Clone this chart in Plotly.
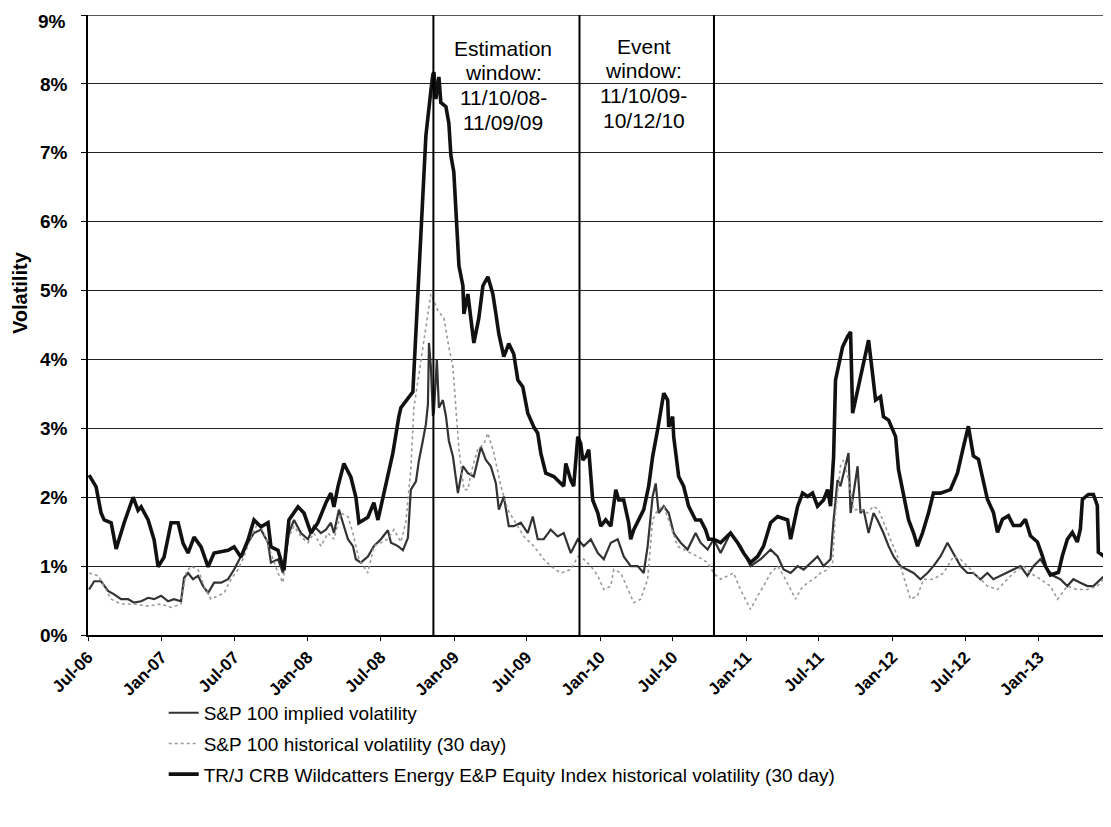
import numpy as np
import pandas as pd
import plotly.graph_objects as go

# ---- data (fractional years, volatility in %) ----
energy_t = [2006.503, 2006.551, 2006.585, 2006.606, 2006.654, 2006.688, 2006.743, 2006.804, 2006.838, 2006.859,
            2006.907, 2006.948, 2006.975, 2007.016, 2007.064, 2007.112, 2007.146, 2007.180, 2007.221, 2007.269,
            2007.317, 2007.358, 2007.454, 2007.495, 2007.542, 2007.590, 2007.631, 2007.679, 2007.727, 2007.747,
            2007.795, 2007.836, 2007.870, 2007.932, 2007.973, 2008.021, 2008.068, 2008.123, 2008.157, 2008.178,
            2008.205, 2008.246, 2008.294, 2008.328, 2008.349, 2008.410, 2008.451, 2008.479, 2008.520, 2008.581,
            2008.622, 2008.636, 2008.718, 2008.739, 2008.752, 2008.786, 2008.807, 2008.828, 2008.841, 2008.855,
            2008.862, 2008.875, 2008.896, 2008.909, 2008.944, 2008.964, 2008.978, 2008.998, 2009.019, 2009.033,
            2009.060, 2009.067, 2009.094, 2009.115, 2009.135, 2009.169, 2009.197, 2009.231, 2009.265, 2009.286,
            2009.306, 2009.340, 2009.374, 2009.408, 2009.436, 2009.470, 2009.504, 2009.545, 2009.572, 2009.593,
            2009.627, 2009.682, 2009.730, 2009.750, 2009.764, 2009.798, 2009.818, 2009.846, 2009.866, 2009.880,
            2009.901, 2009.921, 2009.948, 2009.983, 2010.003, 2010.037, 2010.072, 2010.106, 2010.126, 2010.160,
            2010.194, 2010.208, 2010.229, 2010.263, 2010.297, 2010.331, 2010.358, 2010.392, 2010.413, 2010.434,
            2010.461, 2010.468, 2010.495, 2010.502, 2010.536, 2010.570, 2010.604, 2010.652, 2010.686, 2010.720,
            2010.741, 2010.775, 2010.823, 2010.891, 2010.939, 2010.980, 2011.028, 2011.076, 2011.117, 2011.165,
            2011.213, 2011.281, 2011.302, 2011.350, 2011.384, 2011.418, 2011.452, 2011.486, 2011.527, 2011.555,
            2011.575, 2011.596, 2011.609, 2011.630, 2011.657, 2011.691, 2011.712, 2011.726, 2011.746, 2011.767,
            2011.794, 2011.828, 2011.835, 2011.862, 2011.883, 2011.917, 2011.937, 2011.972, 2011.999, 2012.020,
            2012.040, 2012.074, 2012.109, 2012.143, 2012.170, 2012.204, 2012.245, 2012.279, 2012.327, 2012.395,
            2012.443, 2012.484, 2012.518, 2012.552, 2012.587, 2012.648, 2012.689, 2012.717, 2012.751, 2012.792,
            2012.826, 2012.874, 2012.908, 2012.942, 2012.990, 2013.024, 2013.045, 2013.079, 2013.134, 2013.161,
            2013.195, 2013.229, 2013.263, 2013.284, 2013.298, 2013.339, 2013.373, 2013.400, 2013.407, 2013.441,
            2013.468, 2013.475, 2013.496]
energy_v = [2.32, 2.15, 1.77, 1.67, 1.63, 1.25, 1.63, 2.00, 1.81, 1.86,
            1.67, 1.38, 0.99, 1.13, 1.63, 1.63, 1.33, 1.19, 1.42, 1.28,
            0.99, 1.19, 1.23, 1.28, 1.13, 1.38, 1.67, 1.57, 1.63, 1.28,
            1.23, 0.94, 1.67, 1.86, 1.77, 1.48, 1.63, 1.92, 2.06, 1.86,
            2.15, 2.49, 2.29, 2.00, 1.63, 1.71, 1.92, 1.67, 2.06, 2.64,
            3.17, 3.30, 3.53, 4.48, 5.00, 6.37, 7.25, 7.73, 7.90, 8.14,
            8.17, 7.78, 8.10, 7.73, 7.67, 7.43, 6.96, 6.72, 5.95, 5.36,
            5.07, 4.66, 4.95, 4.60, 4.24, 4.60, 5.07, 5.20, 4.95, 4.66,
            4.37, 4.04, 4.23, 4.08, 3.70, 3.60, 3.22, 3.02, 2.93, 2.64,
            2.35, 2.30, 2.20, 2.16, 2.49, 2.25, 2.16, 2.88, 2.78, 2.54,
            2.59, 2.69, 1.96, 1.77, 1.58, 1.67, 1.58, 2.11, 1.96, 1.96,
            1.63, 1.39, 1.53, 1.67, 1.82, 2.16, 2.59, 2.98, 3.22, 3.51,
            3.41, 3.02, 3.17, 2.88, 2.30, 2.16, 1.87, 1.67, 1.67, 1.53,
            1.39, 1.39, 1.34, 1.48, 1.34, 1.19, 1.05, 1.14, 1.29, 1.63,
            1.72, 1.67, 1.39, 1.87, 2.06, 2.01, 2.06, 1.87, 1.96, 2.11,
            1.87, 2.59, 3.70, 3.94, 4.18, 4.33, 4.40, 3.22, 3.41, 3.60,
            3.89, 4.23, 4.28, 3.80, 3.41, 3.46, 3.17, 3.12, 2.98, 2.88,
            2.40, 2.01, 1.67, 1.48, 1.29, 1.48, 1.77, 2.06, 2.06, 2.11,
            2.35, 2.73, 3.03, 2.60, 2.55, 1.97, 1.78, 1.49, 1.68, 1.73,
            1.59, 1.59, 1.68, 1.44, 1.35, 1.15, 1.00, 0.87, 0.91, 1.15,
            1.39, 1.49, 1.35, 1.54, 1.97, 2.04, 2.04, 1.88, 1.20, 1.15,
            1.10, 1.49, 1.48]

implied_t = [2006.503, 2006.538, 2006.585, 2006.633, 2006.674, 2006.722, 2006.770, 2006.811, 2006.859, 2006.907,
             2006.948, 2006.996, 2007.043, 2007.084, 2007.132, 2007.153, 2007.180, 2007.214, 2007.248, 2007.283,
             2007.317, 2007.358, 2007.406, 2007.454, 2007.495, 2007.542, 2007.590, 2007.631, 2007.679, 2007.727,
             2007.747, 2007.795, 2007.829, 2007.870, 2007.905, 2007.952, 2008.000, 2008.041, 2008.089, 2008.123,
             2008.157, 2008.178, 2008.212, 2008.239, 2008.274, 2008.308, 2008.328, 2008.362, 2008.410, 2008.451,
             2008.499, 2008.547, 2008.568, 2008.616, 2008.650, 2008.684, 2008.704, 2008.739, 2008.759, 2008.786,
             2008.807, 2008.821, 2008.828, 2008.841, 2008.855, 2008.862, 2008.882, 2008.896, 2008.923, 2008.944,
             2008.964, 2008.992, 2009.012, 2009.026, 2009.060, 2009.094, 2009.135, 2009.183, 2009.217, 2009.251,
             2009.286, 2009.306, 2009.340, 2009.374, 2009.408, 2009.456, 2009.504, 2009.538, 2009.572, 2009.613,
             2009.661, 2009.709, 2009.750, 2009.798, 2009.846, 2009.887, 2009.935, 2009.983, 2010.024, 2010.072,
             2010.119, 2010.160, 2010.208, 2010.256, 2010.297, 2010.324, 2010.358, 2010.379, 2010.399, 2010.434,
             2010.468, 2010.502, 2010.550, 2010.597, 2010.652, 2010.686, 2010.734, 2010.775, 2010.823, 2010.891,
             2010.959, 2011.028, 2011.097, 2011.165, 2011.213, 2011.254, 2011.302, 2011.350, 2011.391, 2011.439,
             2011.486, 2011.527, 2011.575, 2011.596, 2011.623, 2011.643, 2011.664, 2011.698, 2011.712, 2011.732,
             2011.760, 2011.780, 2011.801, 2011.835, 2011.869, 2011.896, 2011.937, 2011.972, 2012.006, 2012.054,
             2012.102, 2012.143, 2012.190, 2012.238, 2012.279, 2012.327, 2012.375, 2012.416, 2012.464, 2012.511,
             2012.552, 2012.600, 2012.648, 2012.689, 2012.737, 2012.785, 2012.826, 2012.874, 2012.922, 2012.963,
             2013.010, 2013.058, 2013.099, 2013.147, 2013.195, 2013.236, 2013.284, 2013.332, 2013.373, 2013.421,
             2013.468, 2013.496]
implied_v = [0.66, 0.78, 0.78, 0.64, 0.59, 0.52, 0.52, 0.47, 0.49, 0.54,
             0.52, 0.57, 0.49, 0.52, 0.49, 0.83, 0.90, 0.81, 0.86, 0.71,
             0.61, 0.76, 0.76, 0.81, 0.95, 1.14, 1.34, 1.48, 1.53, 1.34,
             1.05, 1.10, 0.90, 1.48, 1.67, 1.48, 1.39, 1.58, 1.48, 1.53,
             1.63, 1.48, 1.82, 1.63, 1.39, 1.29, 1.10, 1.05, 1.14, 1.29,
             1.39, 1.52, 1.34, 1.29, 1.23, 1.41, 2.11, 2.23, 2.53, 2.82,
             3.06, 3.35, 4.24, 3.89, 3.18, 3.24, 4.00, 3.30, 3.41, 3.18,
             2.82, 2.59, 2.23, 2.06, 2.45, 2.35, 2.30, 2.73, 2.54, 2.45,
             2.20, 1.82, 2.01, 1.58, 1.58, 1.63, 1.48, 1.72, 1.39, 1.39,
             1.53, 1.43, 1.48, 1.19, 1.39, 1.29, 1.39, 1.19, 1.10, 1.34,
             1.39, 1.14, 1.00, 1.00, 0.90, 1.29, 2.01, 2.20, 1.77, 1.87,
             1.77, 1.48, 1.34, 1.24, 1.48, 1.34, 1.24, 1.39, 1.19, 1.48,
             1.29, 1.00, 1.10, 1.24, 1.14, 0.95, 0.90, 1.00, 0.95, 1.05,
             1.14, 1.00, 1.10, 1.67, 2.25, 2.16, 2.35, 2.64, 1.77, 2.06,
             2.45, 1.77, 1.82, 1.48, 1.77, 1.67, 1.48, 1.29, 1.14, 1.00,
             0.95, 0.90, 0.81, 0.90, 1.00, 1.14, 1.34, 1.19, 1.00, 0.90,
             0.90, 0.81, 0.90, 0.81, 0.86, 0.90, 0.95, 1.00, 0.86, 1.00,
             1.10, 0.95, 0.86, 0.81, 0.71, 0.81, 0.76, 0.71, 0.71, 0.81,
             0.90, 1.00]

hist_t = [2006.503, 2006.565, 2006.606, 2006.654, 2006.722, 2006.811, 2006.907, 2006.996, 2007.064, 2007.132,
          2007.166, 2007.200, 2007.248, 2007.290, 2007.337, 2007.385, 2007.426, 2007.474, 2007.522, 2007.563,
          2007.611, 2007.659, 2007.700, 2007.747, 2007.795, 2007.829, 2007.864, 2007.905, 2007.952, 2008.000,
          2008.041, 2008.089, 2008.137, 2008.178, 2008.226, 2008.274, 2008.308, 2008.349, 2008.410, 2008.451,
          2008.499, 2008.547, 2008.588, 2008.636, 2008.670, 2008.704, 2008.725, 2008.773, 2008.841, 2008.889,
          2008.930, 2008.964, 2008.992, 2009.012, 2009.033, 2009.067, 2009.094, 2009.115, 2009.162, 2009.203,
          2009.231, 2009.272, 2009.320, 2009.367, 2009.408, 2009.477, 2009.545, 2009.613, 2009.661, 2009.730,
          2009.798, 2009.846, 2009.887, 2009.935, 2009.983, 2010.024, 2010.072, 2010.092, 2010.140, 2010.187,
          2010.229, 2010.276, 2010.324, 2010.358, 2010.392, 2010.434, 2010.481, 2010.529, 2010.570, 2010.618,
          2010.666, 2010.734, 2010.775, 2010.823, 2010.871, 2010.912, 2010.959, 2011.028, 2011.076, 2011.117,
          2011.165, 2011.213, 2011.254, 2011.302, 2011.336, 2011.370, 2011.418, 2011.459, 2011.507, 2011.555,
          2011.589, 2011.609, 2011.643, 2011.664, 2011.698, 2011.732, 2011.780, 2011.828, 2011.869, 2011.903,
          2011.937, 2011.985, 2012.033, 2012.074, 2012.122, 2012.170, 2012.211, 2012.279, 2012.348, 2012.416,
          2012.464, 2012.511, 2012.580, 2012.648, 2012.717, 2012.785, 2012.826, 2012.894, 2012.942, 2013.010,
          2013.079, 2013.127, 2013.195, 2013.263, 2013.332, 2013.400, 2013.441, 2013.496]
hist_v = [0.90, 0.86, 0.71, 0.52, 0.45, 0.45, 0.42, 0.45, 0.40, 0.45,
          0.90, 1.00, 0.95, 0.71, 0.52, 0.57, 0.61, 0.81, 0.95, 1.14,
          1.43, 1.63, 1.48, 1.19, 0.90, 0.76, 1.39, 1.58, 1.43, 1.34,
          1.48, 1.29, 1.48, 1.39, 1.77, 1.72, 1.48, 1.10, 0.90, 1.29,
          1.34, 1.39, 1.53, 1.35, 1.64, 2.41, 3.30, 4.00, 4.95, 4.71,
          4.60, 4.18, 3.89, 3.30, 2.70, 2.11, 2.11, 2.35, 2.70, 2.77,
          2.93, 2.64, 2.16, 1.82, 1.67, 1.43, 1.29, 1.10, 1.00, 0.90,
          0.95, 1.14, 1.10, 1.00, 0.86, 0.66, 0.71, 0.95, 0.90, 0.66,
          0.47, 0.52, 0.81, 1.67, 1.82, 1.87, 1.58, 1.29, 1.24, 1.19,
          1.14, 1.05, 0.90, 0.81, 0.86, 0.90, 0.66, 0.37, 0.57, 0.71,
          0.90, 1.00, 0.86, 0.66, 0.52, 0.66, 0.76, 0.81, 0.90, 0.95,
          1.05, 1.77, 2.45, 2.54, 2.25, 1.82, 1.82, 1.77, 1.87, 1.82,
          1.63, 1.39, 1.14, 0.86, 0.52, 0.57, 0.81, 0.81, 0.90, 1.14,
          1.10, 1.00, 0.86, 0.71, 0.66, 0.81, 0.90, 1.00, 0.90, 0.81,
          0.71, 0.52, 0.71, 0.66, 0.66, 0.71, 0.81, 0.90]

tick_dates = ["2006-07-01", "2007-01-01", "2007-07-01", "2008-01-01", "2008-07-01", "2009-01-01",
              "2009-07-01", "2010-01-01", "2010-07-01", "2011-01-01", "2011-07-01", "2012-01-01",
              "2012-07-01", "2013-01-01"]
tick_labels = ["Jul-06", "Jan-07", "Jul-07", "Jan-08", "Jul-08", "Jan-09", "Jul-09", "Jan-10",
               "Jul-10", "Jan-11", "Jul-11", "Jan-12", "Jul-12", "Jan-13"]
y_ticks = [0, 1, 2, 3, 4, 5, 6, 7, 8, 9]
y_tick_labels = ["0%", "1%", "2%", "3%", "4%", "5%", "6%", "7%", "8%", "9%"]
window_dates = ["2008-11-10", "2009-11-10", "2010-10-12"]
window_lines = [["Estimation", "window:", "11/10/08-", "11/09/09"],
                ["Event", "window:", "11/10/09-", "10/12/10"]]
series_names = ["S&P 100 implied volatility", "S&P 100 historical volatility (30 day)",
                "TR/J CRB Wildcatters Energy E&P Equity Index historical volatility (30 day)"]
y_title = "Volatility"
y_max = 9


def to_dates(fy):
    fy = np.asarray(fy, dtype=float)
    return pd.Timestamp("2006-01-01") + pd.to_timedelta((fy - 2006.0) * 365.25, unit="D")


FONT = "Arial, Liberation Sans, sans-serif"
fig = go.Figure()

fig.add_trace(go.Scatter(x=to_dates(implied_t), y=implied_v, mode="lines", name=series_names[0],
                         legendgroup="a", line=dict(color="#333333", width=2.2)))
fig.add_trace(go.Scatter(x=to_dates(hist_t), y=hist_v, mode="lines", name=series_names[1],
                         legendgroup="b", line=dict(color="#9a9a9a", width=1.6, dash="dot")))
fig.add_trace(go.Scatter(x=to_dates(energy_t), y=energy_v, mode="lines", name=series_names[2],
                         legendgroup="c", line=dict(color="#111111", width=3.6)))

shapes = [dict(type="line", xref="paper", yref="y", x0=0, x1=1, y0=y_max, y1=y_max,
               line=dict(color="#222222", width=1.5))]
for d in window_dates:
    shapes.append(dict(type="line", xref="x", yref="y", x0=d, x1=d, y0=0, y1=y_max,
                       line=dict(color="black", width=2)))

annotations = []
mid1 = pd.Timestamp(window_dates[0]) + (pd.Timestamp(window_dates[1]) - pd.Timestamp(window_dates[0])) / 2
mid2 = pd.Timestamp(window_dates[1]) + (pd.Timestamp(window_dates[2]) - pd.Timestamp(window_dates[1])) / 2
line_step = 0.36  # vertical spacing between text lines, in axis units
for mid, lines, top in zip([mid1, mid2], window_lines, [8.52, 8.55]):
    for i, txt in enumerate(lines):
        annotations.append(dict(x=mid, y=top - i * line_step, xref="x", yref="y", text=txt, showarrow=False,
                                xanchor="center", yanchor="middle", align="center", xshift=-3,
                                font=dict(family=FONT, size=21, color="black")))
annotations.append(dict(x=-0.0665, y=0.553, xref="paper", yref="paper", text=y_title, showarrow=False,
                        textangle=-90, xanchor="center", yanchor="middle",
                        font=dict(family=FONT, size=20, color="black", weight="bold")))
# top tick label drawn as an annotation, nudged down so it stays inside the page
annotations.append(dict(x=-0.0195, y=y_ticks[-1], xref="paper", yref="y", text=y_tick_labels[-1],
                        showarrow=False, xanchor="right", yanchor="middle", yshift=-6,
                        font=dict(family=FONT, size=19, color="black", weight="bold")))

# page body has an 8px margin, so the figure is sized/offset to place the plot area at the reference spot
fig.update_layout(
    width=1103, height=819,
    margin=dict(l=80, r=0, t=7, b=192, autoexpand=False),
    paper_bgcolor="white", plot_bgcolor="white",
    showlegend=True,
    legend=dict(x=0.074, y=-0.095, xanchor="left", yanchor="top", orientation="v",
                font=dict(family=FONT, size=19, color="black"), tracegroupgap=3,
                bgcolor="rgba(0,0,0,0)"),
    shapes=shapes,
    annotations=annotations,
    font=dict(family=FONT, color="black"),
)
fig.update_xaxes(
    type="date", range=["2006-07-01", "2013-06-30"], automargin=False,
    tickvals=tick_dates, ticktext=tick_labels, tickangle=-45,
    tickfont=dict(family=FONT, size=17, color="black", weight="bold"),
    showgrid=False, showline=True, linecolor="black", linewidth=1.5,
    ticks="outside", ticklen=4, tickcolor="black", zeroline=False,
)
fig.update_yaxes(
    range=[0, y_max], tickvals=y_ticks, ticktext=y_tick_labels[:-1] + [""], automargin=False,
    tickfont=dict(family=FONT, size=19, color="black", weight="bold"),
    showgrid=True, gridcolor="#222222", gridwidth=1.3,
    showline=True, linecolor="black", linewidth=1.5,
    ticks="outside", ticklen=5, tickcolor="black", zeroline=False,
    ticklabelstandoff=10,
)

fig.write_html("out.html")
